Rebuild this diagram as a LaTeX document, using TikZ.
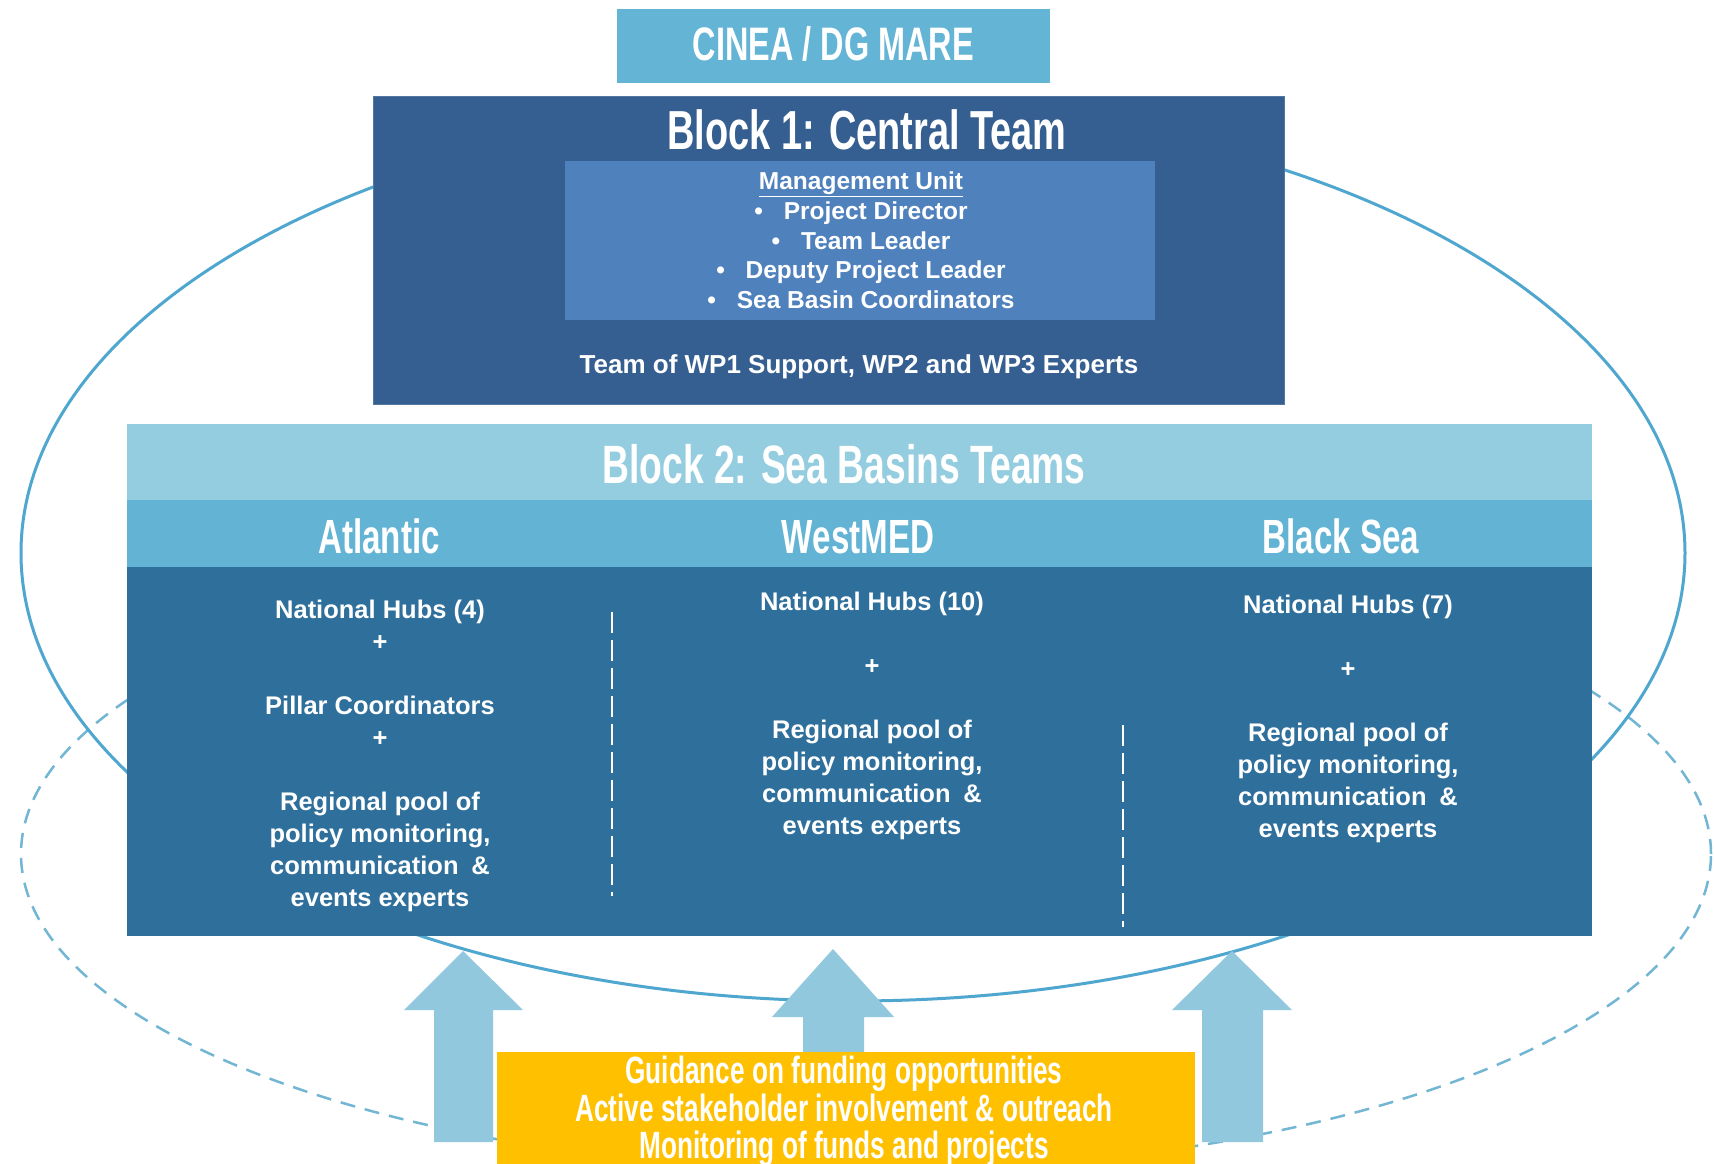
\documentclass[tikz,border=0pt]{standalone}
\usepackage{fontspec}
\setmainfont{Liberation Sans}
\newfontfamily\condfont[FakeStretch=0.69]{Liberation Sans}
\definecolor{cineablue}{HTML}{64B4D6}
\definecolor{blockone}{HTML}{365F91}
\definecolor{mgmtblue}{HTML}{4F81BD}
\definecolor{headlight}{HTML}{93CDDF}
\definecolor{subhead}{HTML}{63B3D5}
\definecolor{bodyblue}{HTML}{2F6F9B}
\definecolor{ringblue}{HTML}{4FA7CF}
\definecolor{dashblue}{HTML}{72B6D4}
\definecolor{arrowblue}{HTML}{92C8DE}
\definecolor{goldbox}{HTML}{FFC000}
\tikzset{
  panel/.style={inner sep=0pt, outer sep=0pt, draw=none},
  headtxt/.style={text=white, inner sep=0pt, anchor=base,
    font=\condfont\bfseries\fontsize{#1}{#1}\selectfont},
  coltxt/.style={text=white, inner sep=0pt, anchor=north, align=center,
    font=\bfseries\fontsize{25.5}{32}\selectfont},
  mgmttxt/.style={text=white, inner sep=0pt, anchor=north, align=center,
    font=\bfseries\fontsize{24.5}{29.6}\selectfont},
  goldtxt/.style={text=white, inner sep=0pt, anchor=north, align=center,
    font=\condfont\bfseries\fontsize{38}{37.5}\selectfont},
  ring/.style={draw=ringblue, line width=3pt},
  dashring/.style={draw=dashblue, line width=2.5pt, dash pattern=on 15pt off 10pt},
  sepline/.style={draw=white, line width=2.5pt, dash pattern=on 21pt off 7pt},
  uparrow/.style={fill=arrowblue, draw=none}
}
\begin{document}
\begin{tikzpicture}[x=1pt,y=-1pt]
\useasboundingbox (0,0) rectangle (1714,1164);
\fill[white] (0,0) rectangle (1714,1164);

% rings
\draw[dashring] (866,854) ellipse [x radius=845pt, y radius=317pt];
\draw[ring] (853,553) ellipse [x radius=832pt, y radius=448pt];

% top box
\node[panel, fill=cineablue, minimum width=433pt, minimum height=74pt] (cinea) at (833,46) {};
\node[headtxt=47] (cineatxt) at (833.5,60) {CINEA / DG MARE};

% block 1
\node[panel, fill=blockone, draw=blockone!85!white, line width=1pt, minimum width=911pt, minimum height=308pt] (block1) at (828.5,250) {};
\node[headtxt=55] (b1title) at (867,149) {Block 1: Central Team};
\node[panel, fill=mgmtblue, minimum width=590pt, minimum height=159pt] (mgmt) at (860,240.5) {};
\node[mgmttxt] (mgmttext) at (861,172) {\underline{Management Unit}\\
  \textbullet\hspace{0.85em}Project Director\\
  \textbullet\hspace{0.85em}Team Leader\\
  \textbullet\hspace{0.85em}Deputy Project Leader\\
  \textbullet\hspace{0.85em}Sea Basin Coordinators};
\node[text=white, inner sep=0pt, anchor=base, font=\bfseries\fontsize{26}{30}\selectfont]
  (teamwp) at (859,373.5) {Team of WP1 Support, WP2 and WP3 Experts};

% block 2
\node[panel, fill=headlight, minimum width=1465pt, minimum height=76pt] (b2head) at (859.5,462) {};
\node[panel, fill=subhead, minimum width=1465pt, minimum height=67pt] (b2sub) at (859.5,533.5) {};
\node[panel, fill=bodyblue, minimum width=1465pt, minimum height=369pt] (b2body) at (859.5,751.5) {};
\node[headtxt=54] (b2title) at (844,483) {Block 2: Sea Basins Teams};
\node[headtxt=48] (atl) at (379,553) {Atlantic};
\node[headtxt=48] (wmed) at (858,553) {WestMED};
\node[headtxt=48] (bsea) at (1341,553) {Black Sea};

\node[coltxt] (atltxt) at (380,599.5) {National Hubs (4)\\ +\\[32pt]
  Pillar Coordinators\\ +\\[32pt]
  Regional pool of\\ policy monitoring,\\ communication\enspace\&\\ events experts};
\node[coltxt] (wmedtxt) at (872,591.4) {National Hubs (10)\\[32pt] +\\[32pt]
  Regional pool of\\ policy monitoring,\\ communication\enspace\&\\ events experts};
\node[coltxt] (bseatxt) at (1348,594.4) {National Hubs (7)\\[32pt] +\\[32pt]
  Regional pool of\\ policy monitoring,\\ communication\enspace\&\\ events experts};

\coordinate (sepAtop) at (612,612);
\coordinate (sepAbot) at (612,896);
\coordinate (sepBtop) at (1123,725);
\coordinate (sepBbot) at (1123,927);
\draw[sepline] (sepAtop) -- (sepAbot);
\draw[sepline] (sepBtop) -- (sepBbot);

% arrows
\fill[uparrow] (434,1142) -- (434,1010) -- (404,1010) -- (463,951) -- (523,1010) -- (493,1010) -- (493,1142) -- cycle;
\fill[uparrow] (803,1100) -- (803,1017) -- (772,1017) -- (833,949) -- (894,1017) -- (864,1017) -- (864,1100) -- cycle;
\fill[uparrow] (1202,1142) -- (1202,1010) -- (1172,1010) -- (1232,951) -- (1292,1010) -- (1263,1010) -- (1263,1142) -- cycle;

% gold box
\node[panel, fill=goldbox, minimum width=698pt, minimum height=118pt] (gold) at (846,1111) {};
\node[goldtxt] (goldtext) at (844,1056) {Guidance on funding opportunities\\
  Active stakeholder involvement \& outreach\\
  Monitoring of funds and projects};
\end{tikzpicture}
\end{document}
